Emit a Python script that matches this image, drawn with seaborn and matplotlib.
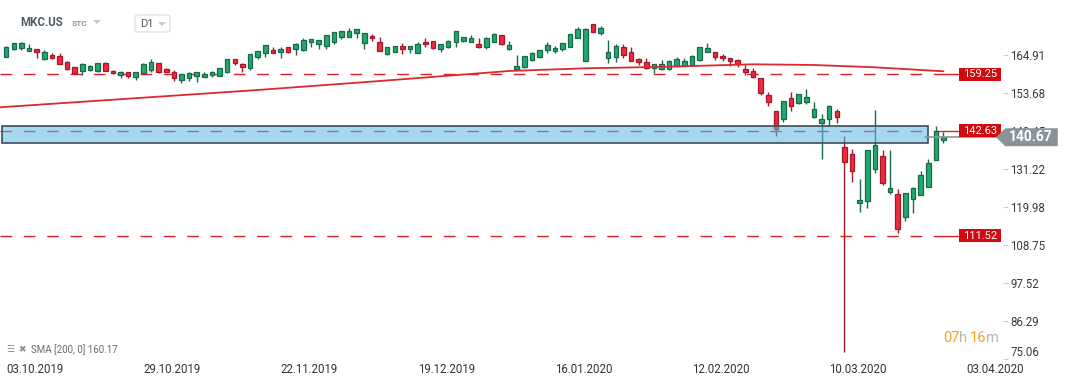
import numpy as np
import pandas as pd
import matplotlib
matplotlib.use("Agg")
import matplotlib.pyplot as plt
import seaborn as sns
from matplotlib.patches import Rectangle, Polygon, FancyBboxPatch

sns.set_theme(style="white")
plt.rcParams["font.family"] = ["Roboto", "DejaVu Sans"]

# ---------------- data ----------------
opens = [164.50, 166.67, 167.16, 166.28, 166.67, 163.81, 164.99, 164.70, 163.02, 161.35,
         160.36, 160.56, 160.36, 162.53, 160.26, 159.08, 160.06, 158.58, 159.57, 160.56,
         162.53, 160.75, 160.06, 157.60, 158.09, 158.78, 158.58, 159.08, 158.78, 160.06,
         163.71, 162.33, 161.25, 164.50, 165.49, 166.47, 165.98, 167.26, 166.67, 166.47,
         168.94, 168.15, 167.76, 168.94, 170.42, 170.42, 171.60, 168.45, 170.62, 168.74,
         165.19, 165.98, 167.66, 166.67, 165.69, 168.74, 169.14, 166.67, 167.26, 168.74,
         169.24, 168.74, 168.25, 167.26, 168.74, 170.91, 166.67, 160.95, 161.35, 163.52,
         164.31, 166.48, 166.28, 166.87, 167.46, 170.12, 163.32, 174.07, 171.60, 164.01,
         164.50, 167.26, 165.79, 163.71, 162.83, 161.05, 160.85, 160.76, 161.74, 161.74,
         162.04, 163.52, 165.98, 165.98, 164.80, 164.01, 163.52, 160.76, 160.36, 158.10,
         153.16, 148.43, 145.97, 152.18, 150.90, 151.19, 146.56, 144.78, 145.97, 148.43,
         137.68, 135.61, 121.31, 121.90, 131.17, 135.12, 124.57, 123.88, 116.97, 122.30,
         123.58, 125.85, 133.93, 139.85]
highs = [167.66, 168.55, 168.74, 168.15, 166.75, 166.47, 165.49, 165.49, 163.10, 161.40,
         162.73, 162.04, 162.60, 163.02, 160.56, 160.36, 160.10, 160.06, 162.73, 163.71,
         162.60, 161.05, 160.56, 159.45, 160.06, 159.95, 159.87, 160.36, 161.10, 163.80,
         163.80, 162.73, 165.30, 166.30, 168.00, 167.26, 167.26, 167.30, 168.45, 169.93,
         169.70, 169.50, 171.00, 171.80, 172.20, 172.88, 172.70, 171.50, 171.21, 170.22,
         167.30, 167.70, 168.45, 167.70, 168.74, 169.93, 169.20, 168.30, 169.43, 172.20,
         170.30, 170.91, 169.93, 170.42, 171.41, 171.00, 169.14, 165.00, 164.80, 165.79,
         166.50, 168.84, 167.66, 168.50, 171.20, 173.18, 172.89, 174.10, 173.58, 169.43,
         168.25, 168.25, 167.26, 164.21, 164.01, 162.30, 163.52, 163.40, 164.31, 164.01,
         164.90, 167.30, 168.45, 166.00, 165.29, 164.05, 163.81, 162.04, 161.05, 158.20,
         153.95, 148.50, 151.45, 153.95, 153.50, 154.94, 151.19, 147.54, 150.21, 148.92,
         141.03, 137.19, 128.31, 136.95, 148.73, 136.89, 136.89, 125.26, 124.10, 126.04,
         130.68, 134.23, 143.99, 142.12]
lows = [164.50, 166.60, 166.47, 166.20, 164.21, 163.52, 163.91, 162.25, 160.56, 159.37,
        159.08, 160.36, 160.06, 160.30, 159.28, 158.09, 158.09, 157.60, 159.50, 160.06,
        159.77, 160.00, 157.30, 156.81, 157.30, 156.91, 158.39, 158.39, 158.70, 159.77,
        162.04, 159.87, 160.56, 163.71, 164.50, 165.60, 164.21, 165.69, 165.09, 166.28,
        167.46, 166.87, 166.77, 168.25, 169.83, 170.40, 170.12, 166.87, 169.14, 166.20,
        165.10, 165.90, 165.29, 165.49, 165.49, 167.26, 166.90, 165.78, 167.20, 167.46,
        168.94, 168.70, 167.20, 166.67, 168.70, 168.10, 166.60, 160.76, 161.05, 163.22,
        164.25, 165.69, 165.69, 166.28, 167.40, 170.10, 163.30, 171.85, 170.91, 162.73,
        163.02, 164.21, 163.30, 162.04, 161.00, 159.77, 160.56, 160.70, 161.70, 161.70,
        161.74, 163.32, 165.90, 163.52, 163.32, 161.84, 161.54, 159.08, 158.30, 153.16,
        150.01, 141.03, 145.28, 148.53, 150.40, 150.40, 146.26, 134.13, 143.99, 144.98,
        77.23, 127.52, 118.65, 119.83, 129.99, 126.54, 123.88, 112.24, 115.99, 118.35,
        123.50, 125.80, 133.90, 139.06]
closes = [167.46, 168.45, 168.45, 166.97, 165.98, 165.98, 164.21, 162.33, 160.85, 159.77,
          162.23, 161.74, 162.53, 160.36, 159.57, 159.87, 158.88, 159.87, 162.23, 162.83,
          160.06, 160.06, 158.09, 159.37, 159.57, 159.87, 159.37, 160.06, 161.05, 163.71,
          162.53, 161.54, 165.19, 166.18, 167.95, 165.69, 166.77, 165.98, 168.25, 169.43,
          169.63, 169.43, 170.91, 171.70, 172.10, 172.10, 172.59, 171.41, 169.93, 166.28,
          167.26, 167.66, 166.67, 167.66, 168.25, 168.15, 166.97, 168.25, 169.14, 172.10,
          170.22, 169.93, 167.26, 169.93, 171.21, 168.15, 167.95, 161.74, 164.70, 165.49,
          166.48, 167.95, 166.97, 168.45, 171.11, 172.59, 172.59, 171.90, 172.89, 165.98,
          167.66, 165.00, 163.32, 163.02, 161.05, 162.24, 162.24, 163.32, 163.71, 163.32,
          164.80, 167.26, 166.97, 164.50, 164.01, 163.32, 162.24, 160.07, 158.39, 153.66,
          151.00, 143.01, 151.39, 150.01, 153.46, 152.47, 148.92, 146.06, 149.91, 146.75,
          133.24, 130.78, 122.10, 136.89, 138.37, 127.23, 125.55, 113.42, 124.07, 125.55,
          129.50, 132.95, 142.51, 140.67]

sma_idx = [-0.8, 33, 49, 66, 76, 87, 98, 106, 114, 123]
sma_val = [149.53, 154.64, 157.30, 160.27, 161.06, 161.54, 162.25, 162.04, 161.36, 160.17]

date_tick_idx = [0, 18, 36, 54, 72, 90, 108, 126]
date_tick_labels = ["03.10.2019", "29.10.2019", "22.11.2019", "19.12.2019",
                    "16.01.2020", "12.02.2020", "10.03.2020", "03.04.2020"]
price_ticks = [75.06, 86.29, 97.52, 108.75, 119.98, 131.22, 142.45, 153.68, 164.91]

levels = [159.25, 142.63, 111.52]
zone_low, zone_high = 139.05, 143.99
last_price = 140.67
sma_label = "SMA [200, 0] 160.17"

# ---------------- figure ----------------
W, H = 1069, 384
fig = plt.figure(figsize=(W / 100, H / 100), dpi=100)
fig.patch.set_facecolor("white")


def fx(px):
    return px / W


def fy(py):
    return 1 - py / H


ax = fig.add_axes([0, 25 / H, 1003 / W, 359 / H])
ax.set_facecolor("white")
for s in ax.spines.values():
    s.set_visible(False)

df = pd.DataFrame({"o": opens, "h": highs, "l": lows, "c": closes})
df["i"] = np.arange(len(df))
up = df["c"] >= df["o"]

G_FILL, G_EDGE = "#22aa6e", "#17694a"
R_FILL, R_EDGE = "#ee2a3c", "#a5182a"
RED = "#dd1f26"

# wicks
ax.vlines(df["i"][up], df["l"][up], df["h"][up], color=G_EDGE, lw=1.0, zorder=2)
ax.vlines(df["i"][~up], df["l"][~up], df["h"][~up], color=R_EDGE, lw=1.0, zorder=2)
# bodies
bw = 0.6
ax.bar(df["i"][up], (df["c"] - df["o"])[up], bottom=df["o"][up], width=bw,
       color=G_FILL, edgecolor=G_EDGE, linewidth=0.9, zorder=3)
ax.bar(df["i"][~up], (df["o"] - df["c"])[~up], bottom=df["c"][~up], width=bw,
       color=R_FILL, edgecolor=R_EDGE, linewidth=0.9, zorder=3)

# SMA 200
sma_df = pd.DataFrame({"i": sma_idx, "v": sma_val})
sns.lineplot(data=sma_df, x="i", y="v", ax=ax, color="#dc2a30", lw=1.3,
             zorder=3.5, legend=False)

# horizontal levels
solid_start = {159.25: 123.2, 142.63: 121.9, 111.52: 123.2}
for lv in levels:
    ax.plot([-0.8, solid_start[lv]], [lv, lv], color=RED, lw=1.0,
            dashes=(8.4, 8.4), zorder=2.5)
    ax.plot([solid_start[lv], 125.04], [lv, lv], color=RED, lw=1.0, zorder=2.5)
    ax.add_patch(Rectangle((125.04, lv - 1.95), 5.5, 3.9, facecolor="#d00a0f",
                           edgecolor="none", zorder=6, clip_on=False))
    ax.text(127.79, lv, f"{lv:.2f}", color="white", fontsize=8, ha="center",
            va="center", zorder=7, clip_on=False)

# zone
ax.add_patch(Rectangle((-0.55, zone_low), 121.52, zone_high - zone_low,
                       facecolor="#5db8e4", alpha=0.55, edgecolor="none", zorder=5))
ax.add_patch(Rectangle((-0.55, zone_low), 121.52, zone_high - zone_low,
                       fill=False, edgecolor="#3d4d58", lw=1.2, zorder=5.1))

# current price line + label
ax.plot([120.6, 130.0], [last_price, last_price], color="#8c959b", lw=1.2,
        zorder=5.5, clip_on=False)
hh = 2.66
ax.add_patch(Polygon([(129.9, last_price), (131.1, last_price + hh),
                      (138.0, last_price + hh), (138.0, last_price - hh),
                      (131.1, last_price - hh)], closed=True,
                     facecolor="#8a9399", edgecolor="none", zorder=8, clip_on=False))
ax.text(134.5, last_price, f"{last_price:.2f}", color="white", fontsize=10,
        fontweight="bold", ha="center", va="center", zorder=9, clip_on=False)

# axes scales
ax.set_xlim(-0.814, 130.81)
ax.set_ylim(75.06, 181.27)
ax.set_xlabel("")
ax.set_ylabel("")
ax.grid(False)

ax.yaxis.tick_right()
ax.set_yticks(price_ticks)
ax.set_yticklabels([f"{p:.2f}" for p in price_ticks])
ax.tick_params(axis="y", which="major", right=True, left=False, length=3.6,
               width=0.8, color="#cccccc", pad=1.5, labelsize=8.3,
               labelcolor="#3a3a3a")
ylabs = ax.get_yticklabels()
ylabs[0].set_verticalalignment("bottom")

ax.set_xticks(date_tick_idx)
ax.set_xticklabels(date_tick_labels, ha="left")
ax.tick_params(axis="x", which="major", bottom=True, length=0, pad=3,
               labelsize=8.3, labelcolor="#333333")

# ---------------- header ----------------
fig.text(fx(20), fy(23), "MKC.US", fontsize=8.3, fontweight="bold",
         color="#4f5b66", ha="left", va="center")
fig.text(fx(72), fy(24), "STC", fontsize=6, fontweight="bold",
         color="#8796a5", ha="left", va="center")
fig.patches.append(Polygon([(fx(93), fy(20)), (fx(101), fy(20)), (fx(97), fy(24))],
                           closed=True, transform=fig.transFigure,
                           facecolor="#c8c8c8", edgecolor="none"))
fig.patches.append(FancyBboxPatch((fx(135), fy(32)), fx(35), 17 / H,
                                  boxstyle="round,pad=0,rounding_size=0.004",
                                  transform=fig.transFigure, facecolor="white",
                                  edgecolor="#e0e0e0", lw=0.9))
fig.text(fx(140), fy(24), "D1", fontsize=8, color="#555555", ha="left", va="center")
fig.patches.append(Polygon([(fx(158), fy(22)), (fx(166), fy(22)), (fx(162), fy(26))],
                           closed=True, transform=fig.transFigure,
                           facecolor="#c8c8c8", edgecolor="none"))

# ---------------- bottom legend & timer ----------------
fig.text(fx(6), fy(350), "☰", fontsize=6.5, color="#8a8a8a", ha="left",
         va="center", family=["DejaVu Sans"])
fig.text(fx(18), fy(350), "✖", fontsize=6.5, color="#8a8a8a", ha="left",
         va="center", family=["DejaVu Sans"])
fig.text(fx(31), fy(350), sma_label, fontsize=7, color="#6b6b6b",
         ha="left", va="center")

ORANGE, LGREY = "#f7a01e", "#b4b4b4"
fig.text(fx(943), fy(338), "07", fontsize=10.5, color=ORANGE, ha="left", va="center")
fig.text(fx(959), fy(338), "h", fontsize=10.5, color=LGREY, ha="left", va="center")
fig.text(fx(970), fy(338), "16", fontsize=10.5, color=ORANGE, ha="left", va="center")
fig.text(fx(986), fy(338), "m", fontsize=10.5, color=LGREY, ha="left", va="center")

fig.savefig("out.png", dpi=100, facecolor="white")
